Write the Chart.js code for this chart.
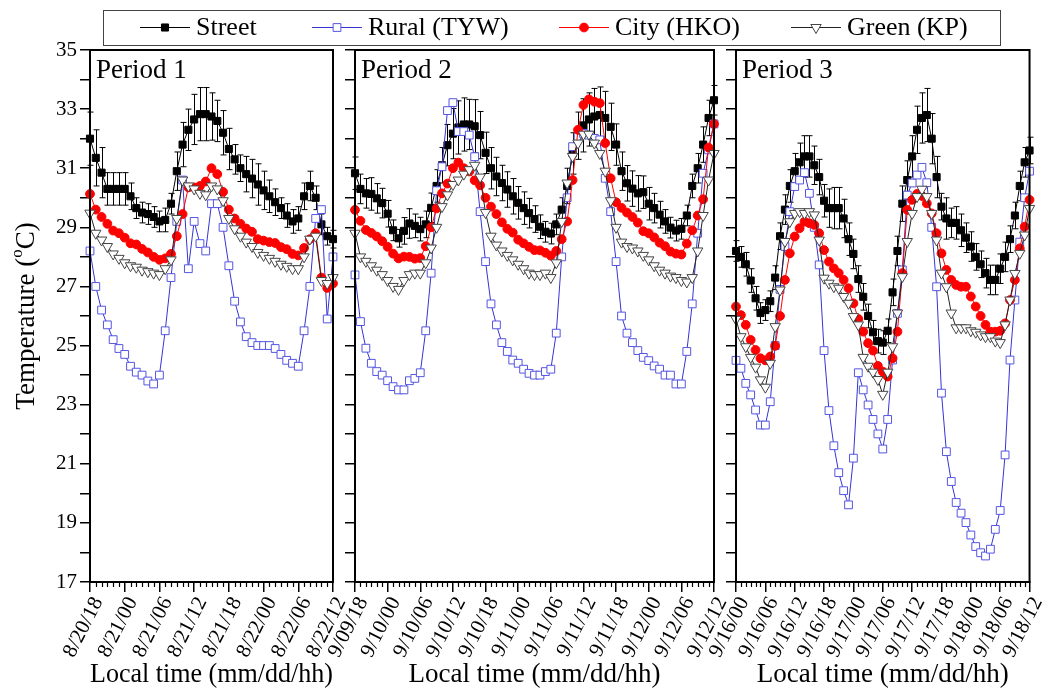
<!DOCTYPE html>
<html>
<head>
<meta charset="utf-8">
<title>Street, rural, city and green temperatures</title>
<script src="https://cdn.jsdelivr.net/npm/chart.js@4.4.1/dist/chart.umd.min.js"></script>
<style>
  html, body { margin: 0; padding: 0; background: #fff; }
  #wrap { position: relative; width: 1053px; height: 691px; }
  #wrap canvas { position: absolute; left: 0; top: 0; }
</style>
</head>
<body>
<div id="wrap">
  <canvas id="p1" width="1053" height="691"></canvas>
  <canvas id="p2" width="1053" height="691"></canvas>
  <canvas id="p3" width="1053" height="691"></canvas>
</div>
<script>
// ---- data (hourly values) ----
const p1Ticks = ['8/20/18', '8/21/00', '8/21/06', '8/21/12', '8/21/18', '8/22/00', '8/22/06', '8/22/12'];
const p1Street = [32.0, 31.35, 30.85, 30.3, 30.3, 30.3, 30.3, 30.05, 29.65, 29.5, 29.45, 29.35, 29.2, 29.25, 29.8, 30.9, 31.8, 32.3, 32.65, 32.83, 32.83, 32.75, 32.6, 32.2, 31.65, 31.3, 31.0, 30.8, 30.65, 30.45, 30.25, 30.05, 29.85, 29.65, 29.4, 29.2, 29.3, 30.05, 30.4, 30.0, 29.1, 28.7, 28.6];
const p1StreetErr = [0.9, 0.95, 0.85, 0.55, 0.55, 0.55, 0.55, 0.45, 0.35, 0.35, 0.35, 0.35, 0.35, 0.4, 0.35, 0.65, 0.75, 0.7, 0.85, 0.9, 0.9, 0.8, 0.7, 0.75, 0.7, 0.5, 0.45, 0.6, 0.65, 0.7, 0.65, 0.55, 0.45, 0.35, 0.4, 0.4, 0.4, 0.45, 0.5, 0.4, 0.35, 0.3, 0.3];
const p1Rural = [28.2, 27.0, 26.2, 25.7, 25.2, 24.9, 24.7, 24.3, 24.1, 24.0, 23.8, 23.7, 24.0, 25.5, 27.3, 29.2, 30.6, 27.6, 29.2, 28.45, 28.2, 29.8, 29.8, 29.0, 27.7, 26.5, 25.8, 25.3, 25.1, 25.0, 25.0, 25.0, 24.9, 24.7, 24.5, 24.4, 24.3, 25.5, 27.0, 29.3, 29.6, 25.9, 28.0];
const p1City = [30.13, 29.6, 29.35, 29.12, 28.89, 28.8, 28.65, 28.46, 28.42, 28.27, 28.15, 28.0, 27.9, 27.95, 28.1, 28.7, 29.45, 30.35, 30.35, 30.4, 30.55, 31.0, 30.8, 30.2, 29.6, 29.3, 29.12, 28.96, 28.85, 28.6, 28.55, 28.5, 28.47, 28.33, 28.26, 28.1, 28.05, 28.3, 28.6, 28.8, 27.3, 26.95, 27.1];
const p1Green = [29.48, 28.8, 28.57, 28.35, 28.1, 27.95, 27.8, 27.7, 27.65, 27.55, 27.5, 27.45, 27.4, 27.6, 27.9, 29.3, 30.6, 30.4, 30.3, 30.15, 30.1, 30.4, 30.3, 29.9, 29.3, 28.95, 28.7, 28.5, 28.35, 28.15, 28.05, 27.95, 27.85, 27.75, 27.68, 27.6, 27.6, 28.0, 28.6, 28.7, 27.2, 27.1, 27.3];

const p2Ticks = ['9/09/18', '9/10/00', '9/10/06', '9/10/12', '9/10/18', '9/11/00', '9/11/06', '9/11/12', '9/11/18', '9/12/00', '9/12/06', '9/12/12'];
const p2Street = [30.83, 30.3, 30.15, 30.13, 29.98, 29.82, 29.46, 28.9, 28.63, 28.88, 29.13, 29.05, 28.94, 29.1, 29.66, 30.4, 31.1, 31.78, 32.17, 32.38, 32.48, 32.48, 32.42, 32.12, 31.52, 31.0, 30.72, 30.5, 30.28, 30.05, 29.83, 29.65, 29.48, 29.28, 29.02, 28.85, 28.79, 29.1, 29.6, 30.4, 31.5, 32.1, 32.45, 32.65, 32.75, 32.8, 32.7, 32.4, 31.8, 30.9, 30.49, 30.31, 30.15, 30.19, 29.8, 29.65, 29.43, 29.2, 28.99, 28.89, 28.95, 29.4, 30.4, 31.0, 31.8, 32.7, 33.3];
const p2StreetErr = [0.55, 0.5, 0.5, 0.55, 0.5, 0.5, 0.45, 0.35, 0.3, 0.45, 0.5, 0.4, 0.4, 0.45, 0.5, 0.55, 0.6, 0.7, 0.85, 0.9, 0.9, 0.85, 0.9, 0.8, 0.7, 0.7, 0.65, 0.6, 0.6, 0.6, 0.55, 0.55, 0.5, 0.45, 0.4, 0.35, 0.35, 0.35, 0.4, 0.6, 0.7, 0.8, 0.9, 0.9, 0.95, 0.95, 0.9, 0.8, 0.7, 0.65, 0.6, 0.6, 0.6, 0.55, 0.55, 0.5, 0.45, 0.4, 0.35, 0.35, 0.35, 0.35, 0.4, 0.5, 0.6, 0.6, 0.5];
const p2Rural = [27.39, 25.81, 24.91, 24.4, 24.12, 24.0, 23.81, 23.61, 23.5, 23.5, 23.81, 23.89, 24.08, 25.5, 27.45, 30.24, 31.05, 32.95, 33.22, 32.24, 32.24, 32.12, 31.39, 29.53, 27.84, 26.41, 25.7, 25.1, 24.8, 24.51, 24.4, 24.2, 24.06, 24.0, 24.0, 24.12, 24.2, 25.42, 28.0, 30.0, 31.73, 32.07, 32.18, 32.12, 32.01, 31.96, 30.66, 29.53, 27.84, 26.0, 25.42, 25.1, 24.83, 24.6, 24.49, 24.31, 24.2, 24.0, 24.0, 23.7, 23.7, 24.8, 26.41, 28.8, 30.83, 31.62, 32.5];
const p2City = [29.59, 29.22, 28.91, 28.81, 28.69, 28.53, 28.34, 28.11, 27.95, 28.01, 28.0, 27.94, 27.96, 28.36, 29.0, 29.64, 30.15, 30.48, 31.0, 31.19, 31.0, 30.89, 30.59, 30.42, 30.0, 29.7, 29.45, 29.17, 28.95, 28.82, 28.58, 28.46, 28.34, 28.23, 28.22, 28.14, 28.04, 28.2, 28.6, 29.2, 30.6, 32.3, 33.14, 33.33, 33.25, 33.2, 31.85, 30.66, 29.85, 29.66, 29.5, 29.35, 29.16, 28.87, 28.8, 28.66, 28.48, 28.36, 28.18, 28.11, 28.08, 28.45, 28.9, 29.4, 29.95, 31.7, 32.5];
const p2Green = [28.8, 28.0, 27.85, 27.7, 27.55, 27.4, 27.2, 27.0, 26.9, 27.2, 27.4, 27.45, 27.45, 27.8, 28.3, 29.0, 29.7, 30.1, 30.45, 30.6, 30.8, 30.95, 31.1, 30.7, 29.5, 28.7, 28.4, 28.2, 28.05, 27.9, 27.75, 27.6, 27.45, 27.4, 27.4, 27.45, 27.3, 27.8, 29.2, 30.5, 31.4, 31.85, 32.15, 32.15, 31.85, 31.5, 30.9, 29.9, 29.0, 28.5, 28.35, 28.3, 28.2, 28.05, 27.9, 27.7, 27.55, 27.45, 27.35, 27.3, 27.2, 27.15, 27.3, 28.2, 29.4, 30.6, 31.5];

const p3Ticks = ['9/16/00', '9/16/06', '9/16/12', '9/16/18', '9/17/00', '9/17/06', '9/17/12', '9/17/18', '9/18/00', '9/18/06', '9/18/12'];
const p3Street = [28.2, 28.0, 27.75, 27.2, 26.6, 26.1, 26.2, 26.5, 27.3, 28.7, 29.6, 30.4, 30.9, 31.2, 31.4, 31.4, 31.1, 30.7, 29.9, 29.65, 29.65, 29.65, 29.3, 28.6, 28.1, 27.25, 26.65, 26.0, 25.45, 25.15, 25.1, 25.5, 26.8, 28.2, 29.8, 30.6, 31.4, 32.3, 32.7, 32.8, 32.0, 30.7, 29.7, 29.3, 29.15, 29.15, 28.9, 28.65, 28.35, 28.0, 27.75, 27.45, 27.22, 27.22, 27.6, 28.0, 28.6, 29.4, 30.4, 31.2, 31.6];
const p3StreetErr = [0.35, 0.35, 0.4, 0.4, 0.4, 0.35, 0.35, 0.35, 0.4, 0.45, 0.5, 0.55, 0.6, 0.65, 0.7, 0.7, 0.65, 0.6, 0.55, 0.65, 0.7, 0.7, 0.65, 0.55, 0.5, 0.45, 0.45, 0.4, 0.4, 0.4, 0.4, 0.4, 0.45, 0.5, 0.6, 0.65, 0.7, 0.8, 0.85, 0.9, 0.85, 0.7, 0.45, 0.7, 0.5, 0.55, 0.55, 0.5, 0.5, 0.45, 0.45, 0.5, 0.5, 0.5, 0.5, 0.5, 0.45, 0.45, 0.5, 0.5, 0.45];
const p3Rural = [24.5, 24.23, 23.72, 23.33, 22.82, 22.31, 22.31, 23.1, 25.0, 26.9, 28.35, 29.53, 30.38, 30.6, 30.85, 30.15, 29.0, 27.73, 24.83, 22.8, 21.61, 20.7, 20.09, 19.61, 21.19, 24.08, 23.5, 22.99, 22.5, 22.01, 21.5, 22.5, 24.51, 26.09, 27.56, 30.09, 30.5, 30.77, 31.03, 30.51, 29.0, 26.99, 23.39, 21.41, 20.4, 19.69, 19.33, 19.01, 18.59, 18.2, 17.99, 17.88, 18.11, 18.78, 19.42, 21.3, 24.51, 26.54, 28.5, 30.0, 30.9];
const p3City = [26.32, 26.03, 25.7, 25.19, 24.85, 24.57, 24.5, 24.63, 24.99, 26.0, 27.22, 28.12, 28.69, 28.97, 29.19, 29.14, 29.08, 28.8, 28.23, 27.84, 27.61, 27.45, 27.22, 26.94, 26.43, 25.9, 25.47, 25.08, 24.83, 24.31, 24.12, 23.95, 24.57, 25.47, 27.45, 29.59, 29.93, 30.13, 30.06, 29.81, 29.47, 28.8, 28.12, 27.56, 27.22, 27.05, 26.99, 26.99, 26.66, 26.32, 26.0, 25.7, 25.47, 25.47, 25.5, 25.75, 26.54, 27.22, 28.29, 29.02, 29.93];
const p3Green = [25.89, 25.3, 24.96, 24.6, 24.27, 23.84, 23.59, 24.4, 25.64, 26.88, 28.52, 29.19, 29.47, 29.53, 29.47, 29.53, 29.42, 28.57, 27.28, 27.11, 26.99, 26.94, 26.66, 26.43, 25.98, 25.7, 24.6, 24.3, 24.1, 23.85, 23.35, 24.1, 24.96, 26.1, 27.33, 28.52, 29.47, 30.04, 30.29, 30.04, 29.47, 28.57, 27.45, 26.99, 26.1, 25.6, 25.6, 25.6, 25.5, 25.45, 25.36, 25.3, 25.3, 25.15, 25.1, 25.7, 26.54, 27.44, 28.12, 28.74, 29.64];

// ---- layout ----
const FONT = "'Liberation Serif', 'Times New Roman', serif";
const W = 1053, H = 691, TOP = 50, BOTTOM = 582;
const Y_AXIS_W = 60, X_AXIS_H = 109;
const LEGEND_LINE = 50;

const toPoints = vals => vals.map((v, i) => ({ x: i, y: v }));

// frame, minor hour ticks, panel title
const panelPlugin = {
  id: 'panel',
  afterDraw(chart, args, opts) {
    const { ctx, chartArea: a, scales: { x } } = chart;
    ctx.save();
    ctx.strokeStyle = '#000';
    ctx.lineWidth = 1.2;
    for (let h = x.min; h <= x.max; h++) {
      if (h % 6 === 0) continue;
      const px = Math.round(x.getPixelForValue(h)) + 0.5;
      ctx.beginPath();
      ctx.moveTo(px, a.bottom);
      ctx.lineTo(px, a.bottom + 5);
      ctx.stroke();
    }
    ctx.lineWidth = 2;
    ctx.strokeRect(a.left, a.top, a.right - a.left, a.bottom - a.top);
    ctx.fillStyle = '#000';
    ctx.font = '27px ' + FONT;
    ctx.textBaseline = 'alphabetic';
    ctx.fillText(opts.title, a.left + 6, a.top + 28);
    ctx.restore();
  }
};

// symmetric error bars for datasets that carry an `errors` array
const errorBarPlugin = {
  id: 'errorBars',
  afterDatasetDraw(chart, args) {
    const ds = chart.data.datasets[args.index];
    if (!ds.errors) return;
    const { ctx, scales: { y } } = chart;
    ctx.save();
    ctx.strokeStyle = '#000';
    ctx.lineWidth = 1;
    args.meta.data.forEach((pt, i) => {
      const v = ds.data[i].y, e = ds.errors[i];
      const t = y.getPixelForValue(v + e), b = y.getPixelForValue(v - e);
      const px = Math.round(pt.x) + 0.5;
      ctx.beginPath();
      ctx.moveTo(px, t); ctx.lineTo(px, b);
      ctx.moveTo(px - 3, t); ctx.lineTo(px + 3, t);
      ctx.moveTo(px - 3, b); ctx.lineTo(px + 3, b);
      ctx.stroke();
    });
    ctx.restore();
  }
};

// y-axis title with a superscript "o"
const yTitlePlugin = {
  id: 'yTitle',
  afterDraw(chart, args, opts) {
    if (!opts.parts) return;
    const { ctx, chartArea: a } = chart;
    const big = opts.size + 'px ' + FONT, small = Math.round(opts.size * 0.62) + 'px ' + FONT;
    ctx.save();
    ctx.font = big;
    const w0 = ctx.measureText(opts.parts[0]).width;
    const w2 = ctx.measureText(opts.parts[2]).width;
    ctx.font = small;
    const w1 = ctx.measureText(opts.parts[1]).width;
    ctx.translate(opts.x, (a.top + a.bottom) / 2);
    ctx.rotate(-Math.PI / 2);
    ctx.fillStyle = '#000';
    const base = opts.size * 0.34;
    let x = -(w0 + w1 + w2) / 2;
    ctx.font = big; ctx.fillText(opts.parts[0], x, base); x += w0;
    ctx.font = small; ctx.fillText(opts.parts[1], x, base - opts.size * 0.45); x += w1;
    ctx.font = big; ctx.fillText(opts.parts[2], x, base);
    ctx.restore();
  }
};

// shared legend box across the top
const legendPlugin = {
  id: 'legendBox',
  afterDraw(chart, args, opts) {
    if (!opts.items) return;
    const { ctx } = chart;
    ctx.save();
    ctx.strokeStyle = '#444';
    ctx.lineWidth = 1;
    ctx.strokeRect(opts.box[0] + 0.5, opts.box[1] + 0.5, opts.box[2], opts.box[3]);
    const cy = opts.box[1] + opts.box[3] / 2;
    chart.data.datasets.forEach((ds, i) => {
      const [x0, tx] = opts.items[i];
      ctx.strokeStyle = ds.borderColor;
      ctx.lineWidth = 1;
      ctx.beginPath();
      ctx.moveTo(x0, cy); ctx.lineTo(x0 + LEGEND_LINE, cy);
      ctx.stroke();
      ctx.fillStyle = ds.pointBackgroundColor;
      ctx.strokeStyle = ds.pointBorderColor;
      Chart.helpers.drawPoint(ctx, {
        pointStyle: ds.pointStyle, radius: ds.pointRadius,
        rotation: ds.pointRotation || 0, borderWidth: 1
      }, x0 + LEGEND_LINE / 2, cy);
      ctx.fillStyle = '#000';
      ctx.font = '26px ' + FONT;
      ctx.textBaseline = 'middle';
      ctx.fillText(ds.label, tx, cy + 1);
    });
    ctx.restore();
  }
};

function makePanel(id, p) {
  const last = p.street.length - 1;
  return new Chart(document.getElementById(id), {
    type: 'line',
    data: {
      datasets: [
        { label: 'Street', data: toPoints(p.street), errors: p.streetErr, order: 3,
          borderColor: '#000', borderWidth: 1, pointStyle: 'rect', pointRadius: 5,
          pointBackgroundColor: '#000', pointBorderColor: '#000', pointBorderWidth: 1 },
        { label: 'Rural (TYW)', data: toPoints(p.rural), order: 2,
          borderColor: '#3434d4', borderWidth: 1, pointStyle: 'rect', pointRadius: 5.5,
          pointBackgroundColor: '#fff', pointBorderColor: '#5555e2', pointBorderWidth: 1 },
        { label: 'City (HKO)', data: toPoints(p.city), order: 1,
          borderColor: '#ff0000', borderWidth: 1, pointStyle: 'circle', pointRadius: 4.4,
          pointBackgroundColor: '#ff0000', pointBorderColor: '#ff0000', pointBorderWidth: 1 },
        { label: 'Green (KP)', data: toPoints(p.green), order: 0,
          borderColor: '#222', borderWidth: 1, pointStyle: 'triangle', pointRotation: 180, pointRadius: 6,
          pointBackgroundColor: '#fff', pointBorderColor: '#444', pointBorderWidth: 1 }
      ]
    },
    options: {
      responsive: false,
      animation: false,
      events: [],
      clip: false,
      layout: { padding: { left: p.left - Y_AXIS_W, right: W - p.right, top: TOP, bottom: H - BOTTOM - X_AXIS_H } },
      elements: { line: { tension: 0 } },
      scales: {
        x: {
          type: 'linear', min: 0, max: last,
          afterFit: s => { s.height = X_AXIS_H; },
          border: { display: true, color: '#000', width: 2 },
          grid: { drawOnChartArea: false, drawTicks: true, tickLength: 10, color: '#000', lineWidth: 1.5 },
          ticks: {
            stepSize: 6, autoSkip: false, minRotation: 63, maxRotation: 63, padding: 1, labelOffset: 8,
            color: '#000', font: { family: FONT, size: 21 },
            callback: v => p.ticks[v / 6]
          },
          title: { display: true, text: 'Local time (mm/dd/hh)', color: '#000', padding: 0,
                   font: { family: FONT, size: 27 } }
        },
        y: {
          min: 17, max: 35,
          afterFit: s => { s.width = Y_AXIS_W; },
          border: { display: true, color: '#000', width: 2 },
          grid: { drawOnChartArea: false, drawTicks: true, tickLength: 10, color: '#000', lineWidth: 1.5 },
          ticks: {
            stepSize: 1, autoSkip: false, padding: 3, color: '#000',
            font: { family: FONT, size: 21 },
            callback: v => (p.yLabels && v % 2 === 1) ? String(v) : ''
          }
        }
      },
      plugins: {
        legend: { display: false },
        tooltip: { enabled: false },
        panel: { title: p.title },
        yTitle: p.yTitle || {},
        legendBox: p.legend || {}
      }
    },
    plugins: [panelPlugin, errorBarPlugin, yTitlePlugin, legendPlugin]
  });
}

makePanel('p1', {
  title: 'Period 1', left: 90, right: 333, ticks: p1Ticks, yLabels: true,
  street: p1Street, streetErr: p1StreetErr, rural: p1Rural, city: p1City, green: p1Green,
  yTitle: { parts: ['Temperature (', 'o', 'C)'], x: 25, size: 27 }
});
makePanel('p2', {
  title: 'Period 2', left: 355, right: 714, ticks: p2Ticks, yLabels: false,
  street: p2Street, streetErr: p2StreetErr, rural: p2Rural, city: p2City, green: p2Green,
  legend: { box: [103, 10, 897, 35], items: [[140, 196], [312, 368], [559, 615], [791, 847]] }
});
makePanel('p3', {
  title: 'Period 3', left: 736, right: 1043, ticks: p3Ticks, yLabels: false,
  street: p3Street, streetErr: p3StreetErr, rural: p3Rural, city: p3City, green: p3Green
});
</script>
</body>
</html>
